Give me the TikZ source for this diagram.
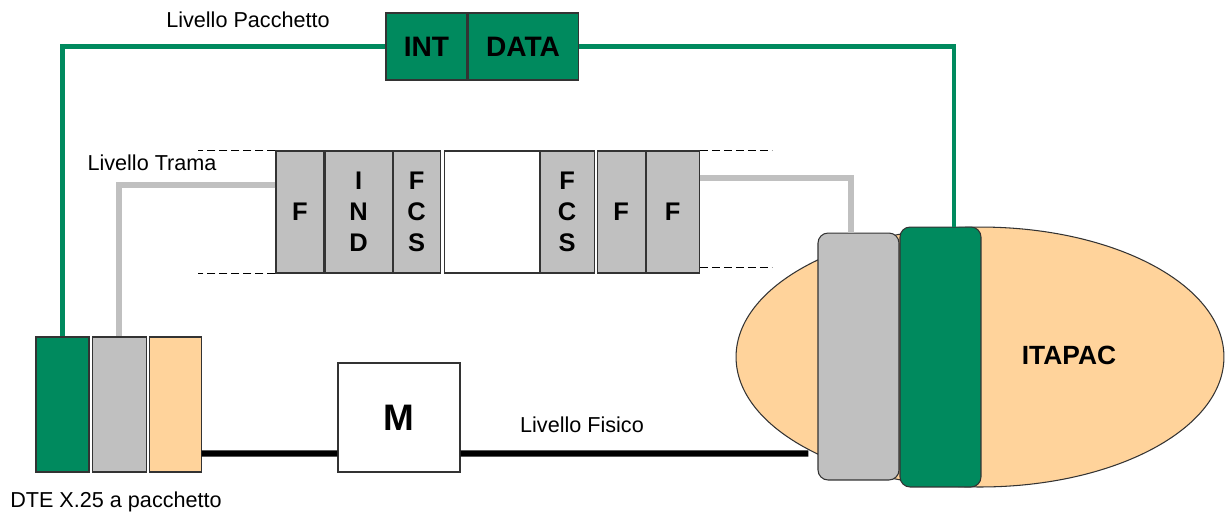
\documentclass[tikz,border=0pt]{standalone}
\usepackage{fontspec}
\setmainfont{Liberation Sans}
\usetikzlibrary{positioning,shapes.geometric}
\definecolor{pktgreen}{RGB}{0,138,94}
\definecolor{framegray}{RGB}{192,192,192}
\definecolor{peach}{RGB}{255,211,155}

\begin{document}
\begin{tikzpicture}[x=0.02cm, y=-0.02cm]
    \tikzstyle{every node} = [font=\fontsize{12.3}{14}\selectfont]
    \tikzstyle{cell} = [draw=black!80, line width=0.6pt, inner sep=0pt, align=center, font=\fontsize{14.5}{17.6}\selectfont\bfseries]
    \tikzstyle{field} = [cell, fill=framegray, minimum height=2.44cm]
    \tikzstyle{layer} = [cell, minimum height=2.7cm]
    \tikzstyle{pkt} = [cell, fill=pktgreen, minimum height=1.34cm, font=\fontsize{16}{18}\selectfont\bfseries]
    \tikzstyle{nodebox} = [cell, rounded corners=0.2cm, minimum width=1.62cm]
    \tikzstyle{pktline} = [draw=pktgreen, line width=2.8pt]
    \tikzstyle{frameline} = [draw=framegray, line width=3.2pt]
    \tikzstyle{physline} = [draw=black, line width=3.6pt]
    \tikzstyle{fringe} = [line width=0.6pt, dash pattern=on 0.16cm off 0.08cm]

    \useasboundingbox (0,0) rectangle (1225,512);

    % packet
    \node (int) [pkt, minimum width=1.62cm] at (426.5,46.5) {INT};
    \node (data) [pkt, minimum width=2.2cm, right=0pt of int] {DATA};

    % frame
    \node (f1) [field, minimum width=0.96cm] at (300,212) {F};
    \node (ind) [field, minimum width=1.34cm, right=0pt of f1] {I\\N\\D};
    \node (fcs1) [field, minimum width=0.94cm, right=0pt of ind] {F\\C\\S};
    \node (info) [cell, fill=white, minimum height=2.44cm, minimum width=1.9cm, right=0.06cm of fcs1] {};
    \node (fcs2) [field, minimum width=1.08cm, right=0pt of info] {F\\C\\S};
    \node (f2) [field, minimum width=0.96cm, right=0.04cm of fcs2] {F};
    \node (f3) [field, minimum width=1.06cm, right=0pt of f2] {F};

    % DTE
    \node (dtegreen) [layer, fill=pktgreen, minimum width=1.06cm] at (62.5,404.5) {};
    \node (dtegray) [layer, fill=framegray, minimum width=1.08cm, right=0.04cm of dtegreen] {};
    \node (dtepeach) [layer, fill=peach, minimum width=1.04cm, right=0.04cm of dtegray] {};
    \node (dte) at (116,502) {DTE X.25 a pacchetto};

    % modem
    \node (modem) [cell, minimum width=2.44cm, minimum height=2.18cm, font=\fontsize{21}{24}\selectfont\bfseries] at (399,417.5) {M};

    % ITAPAC
    \node (itapac) [ellipse, draw=black!80, line width=0.6pt, fill=peach, minimum width=9.76cm, minimum height=5.2cm, inner sep=0pt] at (980,357) {};
    \node (itgray) [nodebox, fill=framegray, minimum height=4.94cm] at (858.5,356.5) {};
    \node (itgreen) [nodebox, fill=pktgreen, minimum height=5.2cm] at (940.5,357) {};
    \node (itlabel) [font=\fontsize{15}{18}\selectfont\bfseries] at (1069,355) {ITAPAC};

    % level labels
    \node (lpkt) at (248,20) {Livello Pacchetto};
    \node (ltrama) at (152,163) {Livello Trama};
    \node (lfis) at (582,425) {Livello Fisico};

    \draw[pktline] (dtegreen.north) |- (int.west);
    \draw[pktline] (data.east) -| ([xshift=0.27cm]itgreen.north);
    \draw[frameline] ([yshift=0.54cm]f1.west) -| (dtegray.north);
    \draw[frameline] ([yshift=0.68cm]f3.east) -| ([xshift=-0.15cm]itgray.north);
    \draw[physline] ([yshift=0.38cm]dtepeach.south east) -- ([yshift=0.38cm]modem.south west);
    \draw[physline] ([yshift=0.38cm]modem.south east) -- ([yshift=0.54cm,xshift=-0.18cm]itgray.south west);

    % frame edges
    \draw[fringe] (f1.north west) -- ++(-77,0);
    \draw[fringe] (f1.south west) -- ++(-77,0);
    \draw[fringe] (f3.north east) -- ++(72,0);
    \draw[fringe] ([yshift=0.12cm]f3.south east) -- ++(72,0);
\end{tikzpicture}
\end{document}
